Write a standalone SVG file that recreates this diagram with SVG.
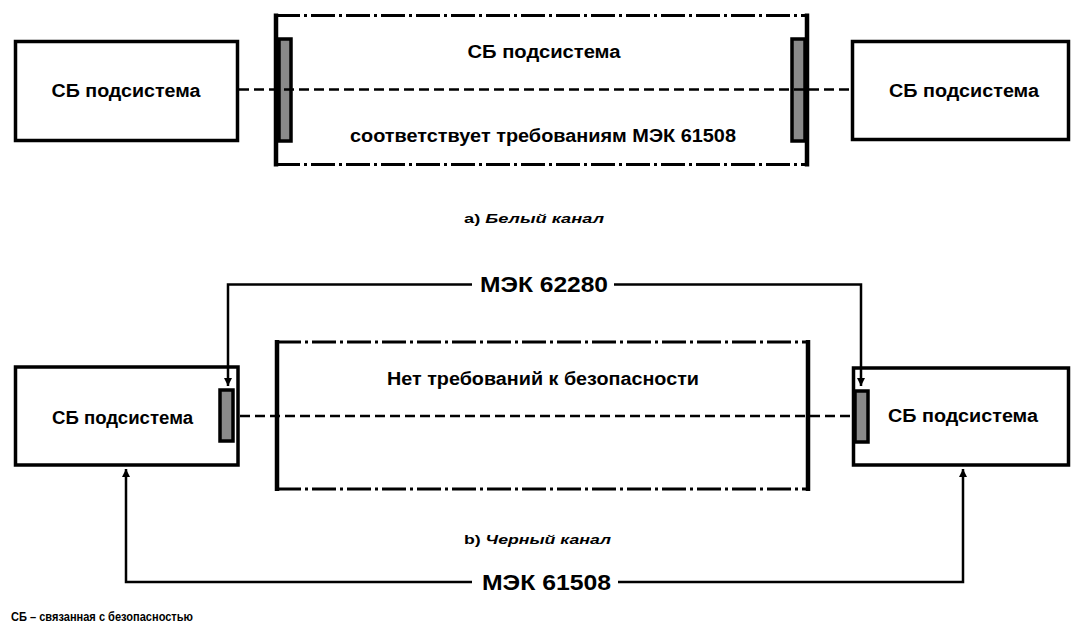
<svg xmlns="http://www.w3.org/2000/svg" width="1071" height="628" viewBox="0 0 1071 628">
<defs>
<style>
.box{fill:#fff;stroke:#000;stroke-width:3.5}
.side{stroke:#000;stroke-width:4.5;fill:none}
.dd{stroke:#000;stroke-width:3;fill:none;stroke-dasharray:24 4 3 4}
.bar{fill:#8a8a8a;stroke:#000;stroke-width:3.5}
.dash{stroke:#000;stroke-width:2.5;fill:none;stroke-dasharray:10 5}
.con{stroke:#000;stroke-width:2.5;fill:none}
text{font-family:"Liberation Sans",Arial,sans-serif;font-weight:bold;fill:#000;text-anchor:middle}
.lbl{font-size:18px}
.big{font-size:22px}
.cap{font-size:13px}
.it{font-style:italic}
.note{font-size:13px;text-anchor:start}
</style>
<marker id="ah" markerUnits="userSpaceOnUse" markerWidth="9" markerHeight="8" refX="8" refY="4" orient="auto">
<path d="M0,0 L8,4 L0,8 z" fill="#000"/>
</marker>
</defs>
<rect width="1071" height="628" fill="#fff"/>

<!-- a) white channel -->
<g id="a-left">
<rect class="box" x="15.5" y="41.5" width="222" height="99"/>
<text class="lbl" x="126" y="96.5" textLength="149" lengthAdjust="spacingAndGlyphs">СБ подсистема</text>
</g>
<g id="a-right">
<rect class="box" x="852.5" y="41.5" width="216" height="98"/>
<text class="lbl" x="964" y="96.5" textLength="150" lengthAdjust="spacingAndGlyphs">СБ подсистема</text>
</g>
<g id="a-middle">
<line class="dd" x1="276" y1="15.5" x2="807" y2="15.5"/>
<line class="dd" x1="276" y1="164.5" x2="807" y2="164.5"/>
<line class="side" x1="276" y1="13.5" x2="276" y2="166.5"/>
<line class="side" x1="807" y1="13.5" x2="807" y2="166.5"/>
<text class="lbl" x="544" y="58" textLength="153" lengthAdjust="spacingAndGlyphs">СБ подсистема</text>
<text class="lbl" x="543" y="142" textLength="386" lengthAdjust="spacingAndGlyphs">соответствует требованиям МЭК 61508</text>
</g>
<g id="a-bars">
<rect class="bar" x="279" y="39" width="12" height="102"/>
<rect class="bar" x="792" y="39" width="13" height="102"/>
</g>
<text class="cap" x="534" y="222.5" textLength="140" lengthAdjust="spacingAndGlyphs">а) <tspan class="it">Белый канал</tspan></text>

<!-- b) black channel -->
<g id="b-left">
<rect class="box" x="15.5" y="367" width="222.5" height="98"/>
<rect class="bar" x="220" y="390" width="13" height="51"/>
<text class="lbl" x="122.5" y="423.5" textLength="141" lengthAdjust="spacingAndGlyphs">СБ подсистема</text>
</g>
<g id="b-right">
<rect class="box" x="853.5" y="368" width="215" height="97"/>
<rect class="bar" x="855" y="391" width="13" height="51"/>
<text class="lbl" x="963" y="421.5" textLength="150" lengthAdjust="spacingAndGlyphs">СБ подсистема</text>
</g>
<g id="b-middle">
<line class="dd" x1="277" y1="342" x2="808" y2="342"/>
<line class="dd" x1="277" y1="489" x2="808" y2="489"/>
<line class="side" x1="277" y1="340" x2="277" y2="491"/>
<line class="side" x1="808" y1="340" x2="808" y2="491"/>
<text class="lbl" x="543" y="384.5" textLength="312" lengthAdjust="spacingAndGlyphs">Нет требований к безопасности</text>
</g>
<text class="cap" x="537.5" y="543.5" textLength="147" lengthAdjust="spacingAndGlyphs">b) <tspan class="it">Черный канал</tspan></text>

<g id="connectors">
<line class="dash" x1="239" y1="89.5" x2="851" y2="89.5"/>
<line class="dash" x1="240" y1="416" x2="853" y2="416"/>
<path class="con" d="M472,284.5 H228 V386" marker-end="url(#ah)"/>
<path class="con" d="M614,284.5 H861 V386" marker-end="url(#ah)"/>
<path class="con" d="M472,582 H126 V469" marker-end="url(#ah)"/>
<path class="con" d="M618,582 H963 V469" marker-end="url(#ah)"/>
<text class="big" x="544" y="291.5" textLength="128" lengthAdjust="spacingAndGlyphs">МЭК 62280</text>
<text class="big" x="546.5" y="589.5" textLength="129" lengthAdjust="spacingAndGlyphs">МЭК 61508</text>
</g>

<text class="note" x="11" y="621" textLength="182" lengthAdjust="spacingAndGlyphs">СБ – связанная с безопасностью</text>
</svg>
